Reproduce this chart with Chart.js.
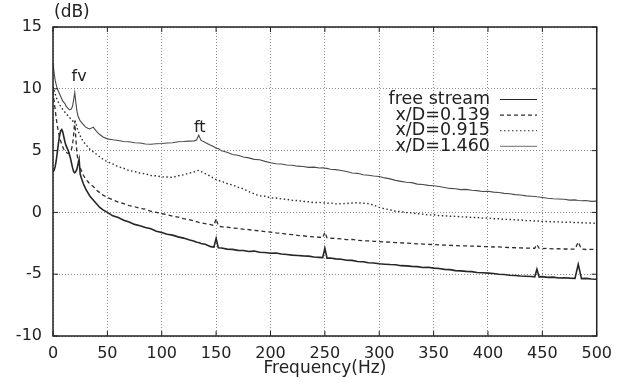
<!DOCTYPE html>
<html>
<head>
<meta charset="utf-8">
<script src="https://cdn.jsdelivr.net/npm/chart.js@4.4.1/dist/chart.umd.min.js"></script>
<style>
body{margin:0;background:#fff;}
#wrap{width:620px;height:382px;}
</style>
</head>
<body>
<div id="wrap"><canvas id="mycanvas" width="620" height="382"></canvas></div>
<script>
// frequency (Hz), shared by all four spectra
var freq = [0,1,2,3,4,5,6,7,8,9,10,11,12,13,14,15,16,17,18,19,20,21,22,23,24,25,26,28,30,32,34,37,40,43,46,50,
	55,60,65,70,75,80,85,90,95,100,105,110,115,120,125,130,
	132,134,136,140,145,148,150,152,155,
	160,165,170,175,180,185,190,195,200,205,210,215,220,225,230,235,240,245,
	248,250,252,255,
	260,265,270,275,280,285,290,295,300,305,310,315,320,325,330,335,340,345,350,355,360,365,370,375,380,385,390,395,400,405,410,415,420,425,430,435,440,
	443,445,447,450,455,460,465,470,475,480,483,486,490,495,500];

// level (dB)
var free_stream = [3.3,3.4,3.7,4.2,4.9,5.6,6.2,6.6,6.7,6.5,6.1,5.7,5.4,5.2,5.0,4.7,4.4,4.0,3.6,3.3,3.2,3.3,3.5,3.9,4.3,3.1,2.8,2.3,1.9,1.6,1.3,1.0,0.7,0.4,0.2,0.0,
	-0.28,-0.42,-0.63,-0.78,-0.97,-1.08,-1.22,-1.33,-1.52,-1.63,-1.77,-1.84,-1.98,-2.08,-2.22,-2.33,
	-2.42,-2.44,-2.52,-2.58,-2.77,-2.8,-2.1,-2.86,-2.88,
	-2.97,-2.99,-3.07,-3.08,-3.16,-3.13,-3.22,-3.24,-3.31,-3.28,-3.37,-3.4,-3.46,-3.49,-3.52,-3.54,-3.61,-3.64,
	-3.66,-2.9,-3.7,-3.69,
	-3.76,-3.79,-3.87,-3.88,-3.97,-3.99,-4.07,-4.09,-4.16,-4.19,-4.22,-4.24,-4.31,-4.33,-4.37,-4.39,-4.46,-4.44,-4.51,-4.54,-4.61,-4.63,-4.71,-4.73,-4.77,-4.79,-4.86,-4.88,-4.91,-4.94,-5.01,-5.03,-5.09,-5.11,-5.14,-5.16,-5.19,
	-5.21,-4.6,-5.22,-5.2,-5.26,-5.24,-5.31,-5.29,-5.32,-5.34,-4.2,-5.36,-5.34,-5.39,-5.41];

var xd_0139 = [9.8,9.0,8.3,7.6,7.0,6.5,6.1,5.8,5.5,5.3,5.1,5.0,4.9,4.8,4.8,4.8,4.9,5.1,5.5,6.3,7.4,6.0,4.8,4.2,3.9,3.6,3.4,3.0,2.7,2.5,2.3,2.1,1.8,1.6,1.4,1.2,
	1.02,0.84,0.71,0.54,0.46,0.33,0.26,0.09,0.01,-0.11,-0.19,-0.31,-0.38,-0.51,-0.58,-0.71,
	-0.74,-0.81,-0.84,-0.91,-0.99,-1.06,-0.5,-1.09,-1.16,
	-1.19,-1.26,-1.29,-1.36,-1.39,-1.46,-1.49,-1.56,-1.59,-1.66,-1.69,-1.76,-1.79,-1.86,-1.89,-1.96,-1.98,-2.01,
	-2.04,-1.6,-2.06,-2.09,
	-2.11,-2.14,-2.21,-2.19,-2.26,-2.29,-2.31,-2.34,-2.36,-2.39,-2.41,-2.44,-2.46,-2.49,-2.51,-2.54,-2.56,-2.59,-2.6,-2.63,-2.64,-2.66,-2.69,-2.71,-2.71,-2.73,-2.74,-2.76,-2.77,-2.8,-2.79,-2.83,-2.84,-2.86,-2.87,-2.89,-2.89,
	-2.91,-2.6,-2.9,-2.93,-2.91,-2.95,-2.94,-2.96,-2.96,-2.98,-2.4,-2.97,-3.0,-2.99,-3.01];

var xd_0915 = [10.2,9.9,9.6,9.3,9.1,8.9,8.7,8.6,8.5,8.3,8.2,8.1,8.0,7.9,7.8,7.7,7.6,7.5,7.4,7.4,7.5,7.2,6.9,6.6,6.4,6.2,6.0,5.7,5.5,5.3,5.1,4.9,4.7,4.5,4.3,4.1,
	3.92,3.69,3.57,3.38,3.31,3.18,3.12,2.98,2.96,2.88,2.86,2.83,2.96,3.04,3.17,3.28,
	3.36,3.4,3.31,3.14,2.92,2.74,2.66,2.58,2.52,
	2.34,2.21,2.04,1.91,1.69,1.51,1.34,1.31,1.18,1.16,1.09,1.06,0.98,0.96,0.89,0.86,0.79,0.81,
	0.77,0.76,0.74,0.76,
	0.69,0.71,0.72,0.76,0.78,0.74,0.71,0.59,0.41,0.29,0.21,0.09,0.06,-0.01,-0.04,-0.11,-0.14,-0.21,-0.19,-0.26,-0.27,-0.31,-0.32,-0.36,-0.37,-0.41,-0.41,-0.46,-0.44,-0.51,-0.51,-0.56,-0.57,-0.61,-0.61,-0.66,-0.67,
	-0.69,-0.71,-0.69,-0.73,-0.74,-0.76,-0.77,-0.81,-0.79,-0.83,-0.81,-0.84,-0.85,-0.86,-0.88];

var xd_1460 = [12.1,11.3,10.7,10.3,10.0,9.8,9.6,9.4,9.2,9.0,8.9,8.8,8.6,8.5,8.4,8.3,8.3,8.4,8.6,9.1,9.7,8.9,8.2,7.8,7.6,7.4,7.3,7.1,6.9,6.8,6.75,6.9,6.55,6.3,6.1,5.95,
	5.88,5.82,5.74,5.71,5.63,5.62,5.53,5.51,5.56,5.58,5.62,5.64,5.72,5.74,5.77,5.79,
	5.86,6.25,5.84,5.66,5.43,5.31,5.19,5.16,4.98,
	4.87,4.69,4.62,4.48,4.41,4.29,4.26,4.13,4.02,3.94,3.91,3.84,3.81,3.74,3.71,3.64,3.66,3.59,
	3.61,3.58,3.56,3.49,
	3.46,3.39,3.31,3.19,3.16,3.04,3.01,2.94,2.91,2.79,2.71,2.59,2.51,2.44,2.41,2.29,2.26,2.19,2.16,2.09,2.01,1.94,1.91,1.84,1.86,1.79,1.76,1.69,1.71,1.64,1.61,1.54,1.51,1.44,1.41,1.34,1.31,
	1.29,1.26,1.24,1.21,1.14,1.11,1.09,1.06,0.99,1.01,0.96,0.94,0.96,0.89,0.91];

var labels = ["free stream","x/D=0.139","x/D=0.915","x/D=1.460"];
var font = "'DejaVu Sans', sans-serif";

function pts(vals){
	var out = [];
	for(var i in freq){
		out.push({x:freq[i], y:vals[i]});
	}
	return out;
}

var styles = [
	{color:"#262626", width:1.6, dash:[]},
	{color:"#2e2e2e", width:1.3, dash:[4,3]},
	{color:"#2e2e2e", width:1.4, dash:[1.5,2.5]},
	{color:"#4a4a4a", width:1.1, dash:[]}
];

var series = [free_stream, xd_0139, xd_0915, xd_1460];
var datasets = [];
for(var s=0; s<series.length; s++){
	datasets.push({
		label: labels[s],
		data: pts(series[s]),
		borderColor: styles[s].color,
		borderWidth: styles[s].width,
		borderDash: styles[s].dash,
		pointRadius: 0,
		tension: 0,
		fill: false
	});
}

// frame, inward ticks, legend and annotations
var overlay = {
	id: 'overlay',
	afterDraw: function(chart){
		var ctx = chart.ctx;
		var a = chart.chartArea;
		var xs = chart.scales.x, ys = chart.scales.y;
		ctx.save();
		ctx.strokeStyle = "#222";
		ctx.lineWidth = 1.5;
		ctx.setLineDash([]);
		ctx.strokeRect(a.left, a.top, a.right - a.left, a.bottom - a.top);
		ctx.lineWidth = 1;
		ctx.beginPath();
		for(var v=0; v<=500; v+=50){
			var px = xs.getPixelForValue(v);
			ctx.moveTo(px, a.bottom); ctx.lineTo(px, a.bottom - 5);
			ctx.moveTo(px, a.top); ctx.lineTo(px, a.top + 5);
		}
		for(var w=-10; w<=15; w+=5){
			var py = ys.getPixelForValue(w);
			ctx.moveTo(a.left, py); ctx.lineTo(a.left + 5, py);
			ctx.moveTo(a.right, py); ctx.lineTo(a.right - 5, py);
		}
		ctx.stroke();

		ctx.fillStyle = "#222";
		ctx.font = "17px " + font;
		ctx.textBaseline = "middle";
		ctx.textAlign = "left";
		ctx.fillText("(dB)", a.left + 1, 13);
		ctx.font = "16px " + font;
		ctx.textAlign = "center";
		ctx.fillText("fv", xs.getPixelForValue(24), ys.getPixelForValue(11.0));
		ctx.fillText("ft", xs.getPixelForValue(135), ys.getPixelForValue(6.85));

		// legend
		ctx.font = "17.5px " + font;
		var lx = 490;
		var ly = 99.5;
		for(var k=0; k<labels.length; k++){
			var yy = ly + k * 15.6;
			ctx.textAlign = "right";
			ctx.fillStyle = "#222";
			ctx.fillText(labels[k], lx, yy);
			ctx.beginPath();
			ctx.strokeStyle = styles[k].color;
			ctx.lineWidth = k == 3 ? 0.8 : 1.1;
			ctx.setLineDash(styles[k].dash);
			ctx.moveTo(lx + 10, yy); ctx.lineTo(lx + 47, yy);
			ctx.stroke();
		}
		ctx.restore();
	}
};

var ctx = document.getElementById("mycanvas");
var SpectrumGraph = new Chart(ctx, {
	type: 'line',
	data: {datasets: datasets},
	options: {
		responsive: false,
		animation: false,
		layout: {padding: {left: 0, right: 23, top: 27, bottom: 0}},
		plugins: {legend: {display: false}, tooltip: {enabled: false}},
		scales: {
			x: {
				type: 'linear',
				min: 0, max: 500,
				ticks: {stepSize: 50, padding: 8, color: "#222", font: {family: font, size: 16}},
				grid: {color: "#8a8a8a", lineWidth: 1, drawTicks: false},
				border: {display: false, dash: [1, 2]},
				title: {display: true, text: "Frequency(Hz)", color: "#222", font: {family: font, size: 17}, padding: {top: 0, bottom: 3}},
				afterFit: function(scale){ scale.height = 46; }
			},
			y: {
				min: -10, max: 15,
				ticks: {stepSize: 5, padding: 11, color: "#222", font: {family: font, size: 16}},
				grid: {color: "#8a8a8a", lineWidth: 1, drawTicks: false},
				border: {display: false, dash: [1, 2]},
				afterFit: function(scale){ scale.width = 53; }
			}
		}
	},
	plugins: [overlay]
});
</script>
</body>
</html>
